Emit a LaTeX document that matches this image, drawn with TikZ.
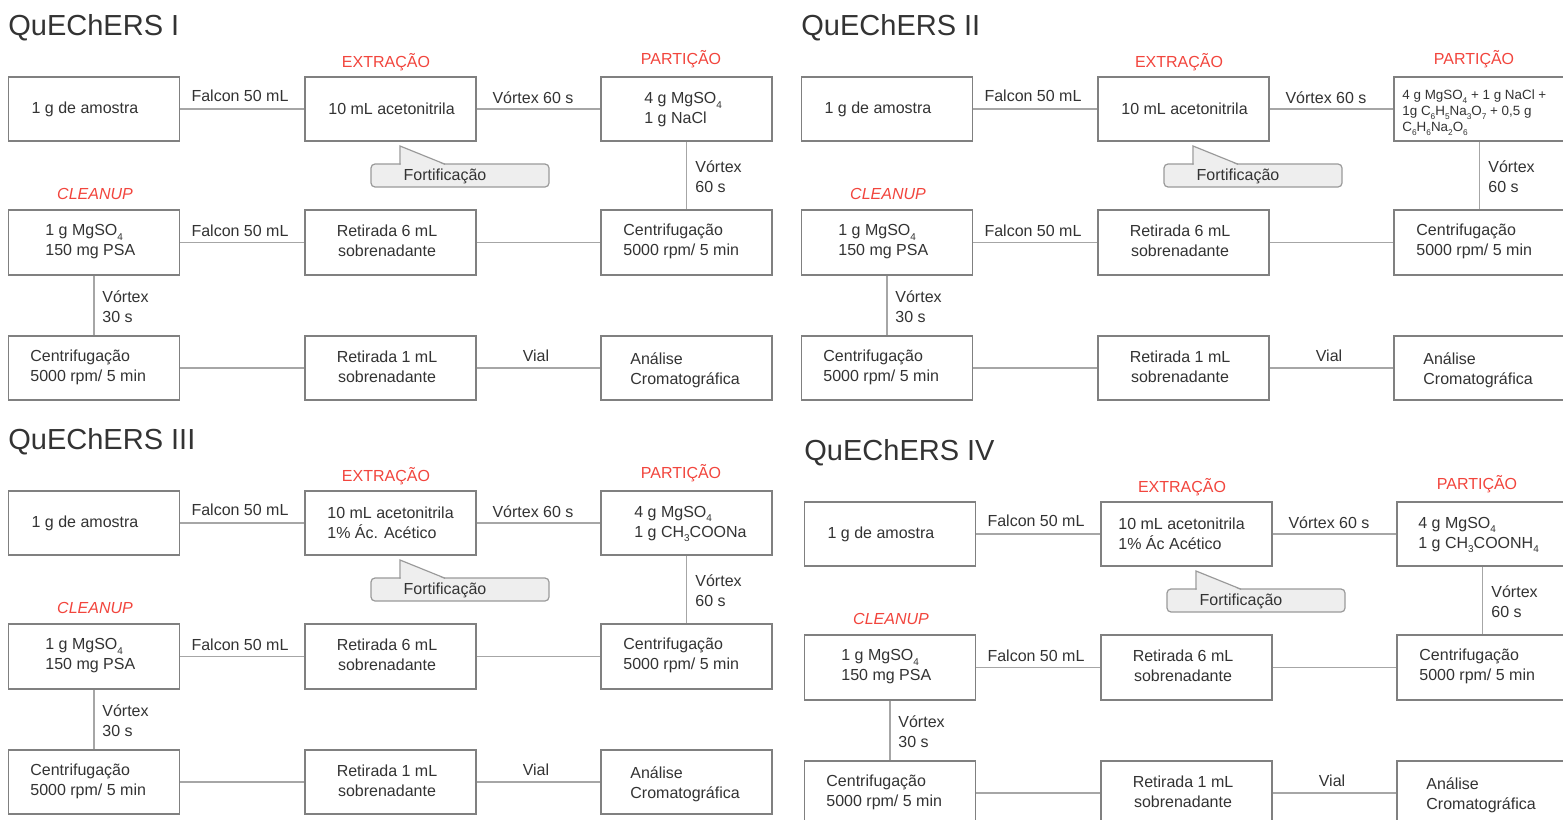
\documentclass[tikz,border=0pt]{standalone}
\usepackage{fontspec}
\setmainfont{Liberation Sans}
\definecolor{txt}{HTML}{333333}
\definecolor{boxc}{HTML}{808080}
\definecolor{linec}{HTML}{A6A6A6}
\definecolor{redc}{HTML}{F2453D}
\definecolor{fortfill}{HTML}{EEEEEE}
\definecolor{fortdraw}{HTML}{9A9A9A}
\newcommand\sbx[1]{\raisebox{-0.55ex}{\scalebox{0.62}{#1}}}
\tikzset{
 box/.style={draw=boxc, line width=0.8pt, minimum width=85.5pt, minimum height=32pt, inner sep=0pt},
 conn/.style={draw=linec, line width=0.8pt},
 txtn/.style={text=txt, font=\fontsize{8}{10}\selectfont, inner sep=0pt, align=left},
 txtc/.style={text=txt, font=\fontsize{8}{10}\selectfont, inner sep=0pt, align=center},
 stage/.style={text=redc, font=\fontsize{8}{10}\selectfont, inner sep=0pt},
 ttl/.style={text=txt, font=\fontsize{14.5}{16}\selectfont, inner sep=0pt, anchor=west},
 fortbox/.style={draw=fortdraw, fill=fortfill, rounded corners=2pt, minimum width=89pt, minimum height=11.5pt, inner sep=0pt, line width=0.6pt},
}
\newcommand\qpanel[9]{%
\begin{scope}[shift={(#2,#3)}]
 \node[ttl] (#1title) at (8,28) {#4};
 \node[stage] (#1ext) at (386,62) {EXTRAÇÃO};
 \node[stage] (#1par) at (681,59) {PARTIÇÃO};
 \node[stage, font=\fontsize{8}{10}\selectfont\itshape] (#1cle) at (95,194) {CLEANUP};
 \node[box] (#1a) at (94,109) {};
 \node[box] (#1b) at (390.5,109) {};
 \node[box] (#1c) at (686.5,109) {};
 \node[box, minimum height=32.5pt] (#1e) at (94,242.5) {};
 \node[box, minimum height=32.5pt] (#1f) at (390.5,242.5) {};
 \node[box, minimum height=32.5pt] (#1d) at (686.5,242.5) {};
 \node[box] (#1g) at (94,368) {};
 \node[box] (#1h) at (390.5,368) {};
 \node[box] (#1i) at (686.5,368) {};
 \draw[conn] (#1a) -- (#1b);
 \draw[conn] (#1b) -- (#1c);
 \draw[conn] (#1c) -- (#1d);
 \draw[conn] (#1d) -- (#1f);
 \draw[conn] (#1f) -- (#1e);
 \draw[conn] (#1e) -- (#1g);
 \draw[conn] (#1g) -- (#1h);
 \draw[conn] (#1h) -- (#1i);
 \node[fortbox] (#1fort) at (460,175.5) {};
 \fill[fortfill] (400.6,146.8) -- (444,164.8) -- (400.6,164.8) -- cycle;
 \draw[fortdraw, line width=0.6pt] (400,164.5) -- (400,146) -- (445,164.2);
 \node[txtc] (#1fortt) at (445,176) {Fortificação};
 \node[txtc] (#1at) at (85,109) {1 g de amostra};
 \node[txtn, anchor=west] (#1bt) at (#5,109) {#6};
 \node[txtn, anchor=west, #9] (#1ct) at (#7,110) {#8};
 \node[txtn, anchor=west] (#1et) at (45,242) {1 g MgSO\sbx{4}\\150 mg PSA};
 \node[txtc] (#1ft) at (387,241) {Retirada 6 mL\\sobrenadante};
 \node[txtn, anchor=west] (#1dt) at (623,241) {Centrifugação\\5000 rpm/ 5 min};
 \node[txtn, anchor=west] (#1gt) at (30,367) {Centrifugação\\5000 rpm/ 5 min};
 \node[txtc] (#1ht) at (387,367) {Retirada 1 mL\\sobrenadante};
 \node[txtn, anchor=west] (#1it) at (630,370) {Análise\\Cromatográfica};
 \node[txtc] (#1l1) at (240,96) {Falcon 50 mL};
 \node[txtc] (#1l2) at (533,98) {Vórtex 60 s};
 \node[txtn, anchor=west] (#1l3) at (695,177) {Vórtex\\60 s};
 \node[txtc] (#1l4) at (240,231) {Falcon 50 mL};
 \node[txtn, anchor=west] (#1l5) at (102,307) {Vórtex\\30 s};
 \node[txtc] (#1l6) at (536,356) {Vial};
\end{scope}}
\begin{document}
\begin{tikzpicture}[x=0.5pt, y=-0.5pt]
\useasboundingbox[fill=white] (0,0) rectangle (1563,819);
\qpanel{p1}{0}{0}{QuEChERS I}{328}{10 mL acetonitrila}{644}{4 g MgSO\sbx{4}\\1 g NaCl}{}
\qpanel{p2}{793}{0}{QuEChERS II}{328}{10 mL acetonitrila}{609}{4 g MgSO\sbx{4} + 1 g NaCl +\\1g C\sbx{6}H\sbx{5}Na\sbx{3}O\sbx{7} + 0,5 g\\C\sbx{6}H\sbx{6}Na\sbx{2}O\sbx{6}}{font=\fontsize{6.7}{8}\selectfont, yshift=-1.5pt}
\qpanel{p3}{0}{414}{QuEChERS III}{327}{10 mL acetonitrila\\1\% Ác. Acético}{634}{4 g MgSO\sbx{4}\\1 g CH\sbx{3}COONa}{}
\qpanel{p4}{796}{425}{QuEChERS IV}{322}{10 mL acetonitrila\\1\% Ác Acético}{622}{4 g MgSO\sbx{4}\\1 g CH\sbx{3}COONH\sbx{4}}{}
\end{tikzpicture}
\end{document}
